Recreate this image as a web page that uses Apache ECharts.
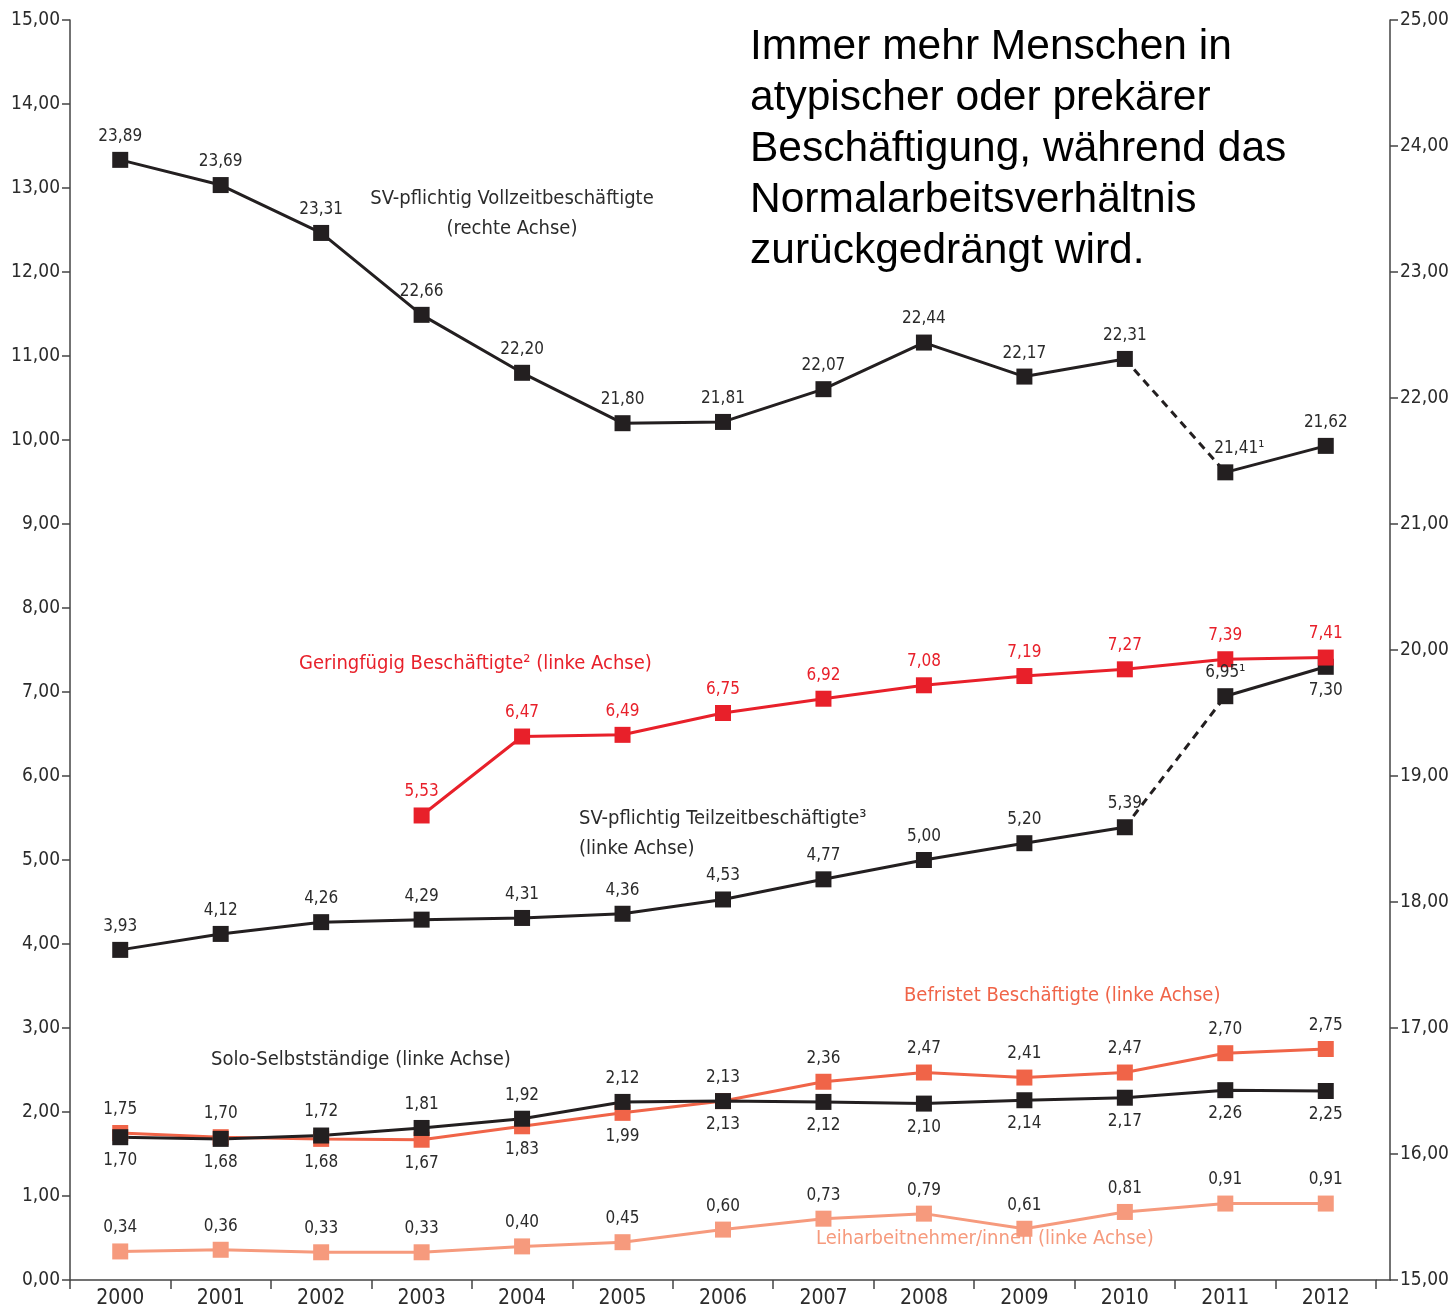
<!DOCTYPE html>
<html>
<head>
<meta charset="utf-8">
<script src="https://cdn.jsdelivr.net/npm/echarts@6/dist/echarts.min.js"></script>
<style>
  html, body { margin: 0; padding: 0; background: #fff; }
  #chart { width: 1454px; height: 1311px; }
</style>
</head>
<body>
<div id="chart"></div>
<script>
// Daten (Mio.)
var years = ['2000','2001','2002','2003','2004','2005','2006','2007','2008','2009','2010','2011','2012'];
var vollzeit = [23.89, 23.69, 23.31, 22.66, 22.20, 21.80, 21.81, 22.07, 22.44, 22.17, 22.31, 21.41, 21.62];
var teilzeit = [3.93, 4.12, 4.26, 4.29, 4.31, 4.36, 4.53, 4.77, 5.00, 5.20, 5.39, 6.95, 7.30];
var geringfuegig = [null, null, null, 5.53, 6.47, 6.49, 6.75, 6.92, 7.08, 7.19, 7.27, 7.39, 7.41];
var befristet = [1.75, 1.70, 1.68, 1.67, 1.83, 1.99, 2.13, 2.36, 2.47, 2.41, 2.47, 2.70, 2.75];
var solo = [1.70, 1.68, 1.72, 1.81, 1.92, 2.12, 2.13, 2.12, 2.10, 2.14, 2.17, 2.26, 2.25];
var leiharbeit = [0.34, 0.36, 0.33, 0.33, 0.40, 0.45, 0.60, 0.73, 0.79, 0.61, 0.81, 0.91, 0.91];
var leftTicks = [0, 15, 1];   // min, max, interval
var rightTicks = [15, 25, 1];

// Fußnoten an einzelnen Werten
var vollzeitNote = ['', '', '', '', '', '', '', '', '', '', '', '¹', ''];
var teilzeitNote = ['', '', '', '', '', '', '', '', '', '', '', '¹', ''];

var T = 'top', B = 'bottom';
var teilzeitPos = [T, T, T, T, T, T, T, T, T, T, T, T, B];
var befristetPos = [T, T, B, B, B, B, B, T, T, T, T, T, T];
var soloPos = [B, B, T, T, T, T, T, B, B, B, B, B, B];

var BLACK = '#231f20', RED = '#e8202a', ORANGE = '#f06448', SALMON = '#f69a7d', TXT = '#2b2b2b';
var FONT = '"DejaVu Sans Condensed", "Liberation Sans Narrow", "Roboto", sans-serif';

function fmt(v) { return v.toFixed(2).replace('.', ','); }

function segment(values, from, to) {
  return values.map(function (v, i) { return (i >= from && i <= to) ? v : null; });
}

function lineSeries(values, color, axis, dashed) {
  return {
    type: 'line',
    yAxisIndex: axis,
    data: values,
    symbol: 'none',
    connectNulls: false,
    lineStyle: { color: color, width: 3, type: dashed ? [8, 6] : 'solid' },
    z: 2,
    silent: true
  };
}

function pointSeries(values, color, axis, labelColor, positions, notes) {
  return {
    type: 'scatter',
    yAxisIndex: axis,
    symbol: 'rect',
    symbolSize: 16,
    itemStyle: { color: color, opacity: 1 },
    z: 3,
    data: values.map(function (v, i) {
      if (v == null) return null;
      var n = notes ? notes[i] : '';
      return {
        value: v,
        label: {
          show: true,
          position: positions ? positions[i] : 'top',
          distance: 7,
          offset: (n && axis === 1) ? [14, 0] : [0, 0],
          color: labelColor,
          fontSize: 17,
          fontFamily: FONT,
          formatter: fmt(v) + n
        }
      };
    })
  };
}

var chart = echarts.init(document.getElementById('chart'));

var series = [
  lineSeries(segment(vollzeit, 0, 10), BLACK, 1, false),
  lineSeries(segment(vollzeit, 10, 11), BLACK, 1, true),
  lineSeries(segment(vollzeit, 11, 12), BLACK, 1, false),
  lineSeries(segment(teilzeit, 0, 10), BLACK, 0, false),
  lineSeries(segment(teilzeit, 10, 11), BLACK, 0, true),
  lineSeries(segment(teilzeit, 11, 12), BLACK, 0, false),
  lineSeries(geringfuegig, RED, 0, false),
  lineSeries(befristet, ORANGE, 0, false),
  lineSeries(solo, BLACK, 0, false),
  lineSeries(leiharbeit, SALMON, 0, false),
  pointSeries(vollzeit, BLACK, 1, TXT, null, vollzeitNote),
  pointSeries(teilzeit, BLACK, 0, TXT, teilzeitPos, teilzeitNote),
  pointSeries(geringfuegig, RED, 0, RED, null, null),
  pointSeries(befristet, ORANGE, 0, TXT, befristetPos, null),
  pointSeries(solo, BLACK, 0, TXT, soloPos, null),
  pointSeries(leiharbeit, SALMON, 0, TXT, null, null)
];

function note(text, x, y, color, align) {
  return {
    type: 'text', x: x, y: y,
    style: { text: text, fill: color, font: '20px ' + FONT, align: align || 'left', verticalAlign: 'middle' }
  };
}

var axisColor = '#444';

var option = {
  animation: false,
  backgroundColor: '#fff',
  grid: { left: 70, right: 78, top: 20, bottom: 31 },
  xAxis: {
    type: 'category',
    data: years,
    boundaryGap: true,
    axisLine: { lineStyle: { color: axisColor, width: 1.5 } },
    axisTick: { show: true, inside: false, length: 9, lineStyle: { color: axisColor, width: 1.5 } },
    axisLabel: { color: TXT, fontSize: 21, fontFamily: FONT, margin: 8 }
  },
  yAxis: [
    {
      type: 'value', position: 'left',
      min: leftTicks[0], max: leftTicks[1], interval: leftTicks[2],
      splitLine: { show: false },
      axisLine: { show: true, lineStyle: { color: axisColor, width: 1.5 } },
      axisTick: { show: true, length: 8, lineStyle: { color: axisColor, width: 1.5 } },
      axisLabel: { color: TXT, fontSize: 19, fontFamily: FONT, margin: 10, formatter: fmt }
    },
    {
      type: 'value', position: 'right', offset: 14,
      min: rightTicks[0], max: rightTicks[1], interval: rightTicks[2],
      splitLine: { show: false },
      axisLine: { show: true, lineStyle: { color: axisColor, width: 1.5 } },
      axisTick: { show: true, length: 8, lineStyle: { color: axisColor, width: 1.5 } },
      axisLabel: { color: TXT, fontSize: 19, fontFamily: FONT, margin: 10, formatter: fmt }
    }
  ],
  graphic: [
    {
      // Verlängerung der x-Achse bis zur rechten Achse
      type: 'line', silent: true,
      shape: { x1: 1376, y1: 1280, x2: 1391, y2: 1280 },
      style: { stroke: axisColor, lineWidth: 1.5 }
    },
    {
      type: 'text', left: 750, top: 22,
      style: {
        text: 'Immer mehr Menschen in\natypischer oder prekärer\nBeschäftigung, während das\nNormalarbeitsverhältnis\nzurückgedrängt wird.',
        fill: '#000', font: '42.5px "Liberation Sans", Arial, sans-serif', lineHeight: 51
      }
    },
    note('SV-pflichtig Vollzeitbeschäftigte', 512, 199, TXT, 'center'),
    note('(rechte Achse)', 512, 229, TXT, 'center'),
    note('Geringfügig Beschäftigte² (linke Achse)', 299, 664, RED),
    note('SV-pflichtig Teilzeitbeschäftigte³', 579, 819, TXT),
    note('(linke Achse)', 579, 849, TXT),
    note('Befristet Beschäftigte (linke Achse)', 904, 996, ORANGE),
    note('Solo-Selbstständige (linke Achse)', 211, 1060, TXT),
    note('Leiharbeitnehmer/innen (linke Achse)', 816, 1239, SALMON)
  ],
  series: series
};

chart.setOption(option);
</script>
</body>
</html>
